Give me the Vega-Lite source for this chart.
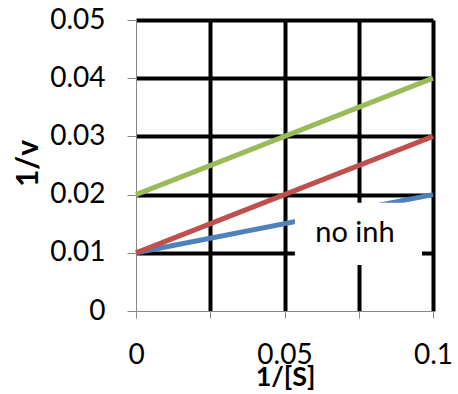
{
  "$schema": "https://vega.github.io/schema/vega-lite/v6.json",
  "width": 297,
  "height": 291,
  "autosize": {"type": "none"},
  "padding": {"left": 136, "top": 20, "right": 25, "bottom": 83},
  "background": "white",
  "config": {
    "view": {"stroke": null},
    "font": "Lato",
    "axis": {"labelFont": "Lato", "titleFont": "Lato"}
  },
  "datasets": {
    "lines": [
      {"s": "s1", "x": 0, "y": 0.01},
      {"s": "s1", "x": 0.1, "y": 0.02},
      {"s": "s2", "x": 0, "y": 0.01},
      {"s": "s2", "x": 0.1, "y": 0.03},
      {"s": "s3", "x": 0, "y": 0.02},
      {"s": "s3", "x": 0.1, "y": 0.04}
    ],
    "labels": [
      {"label": "no inh", "x": 0.0737, "y": 0.0134, "bx0": 0.0535, "bx1": 0.0963, "by0": 0.0079, "by1": 0.0186}
    ]
  },
  "layer": [
    {
      "data": {"name": "lines"},
      "mark": {"type": "line", "strokeWidth": 5, "strokeCap": "butt"},
      "encoding": {
        "x": {
          "field": "x", "type": "quantitative",
          "scale": {"domain": [0, 0.1], "nice": false, "zero": false},
          "axis": {
            "values": [0, 0.025, 0.05, 0.075, 0.1],
            "labelExpr": "abs(datum.value*20 - round(datum.value*20)) < 1e-6 ? format(datum.value, '~g') : ''",
            "grid": true,
            "gridColor": {"condition": {"test": "datum.value === 0", "value": "transparent"}, "value": "black"},
            "gridWidth": 4,
            "gridOpacity": 1,
            "domainColor": "#868686",
            "domainWidth": 1,
            "tickColor": "#868686",
            "tickSize": 7,
            "tickWidth": 1,
            "labelFontSize": 28,
            "labelColor": "black",
            "labelPadding": 23,
            "labelFlush": false,
            "labelOverlap": false,
            "title": "1/[S]",
            "titleFontSize": 27,
            "titleFontWeight": "bold",
            "titleColor": "black",
            "titleX": 149,
            "titleY": 66,
            "titleBaseline": "middle",
            "titleAlign": "center"
          }
        },
        "y": {
          "field": "y", "type": "quantitative",
          "scale": {"domain": [0, 0.05], "nice": false, "zero": false},
          "axis": {
            "values": [0, 0.005, 0.01, 0.015, 0.02, 0.025, 0.03, 0.035, 0.04, 0.045, 0.05],
            "labelExpr": "abs(datum.value*100 - round(datum.value*100)) < 1e-6 ? format(datum.value, '~g') : ''",
            "grid": true,
            "gridColor": {"condition": {"test": "datum.value === 0 || abs(datum.value*100 - round(datum.value*100)) > 1e-6", "value": "transparent"}, "value": "black"},
            "gridWidth": 4,
            "gridOpacity": 1,
            "domainColor": "#868686",
            "domainWidth": 1,
            "tickColor": "#868686",
            "tickSize": 9,
            "tickWidth": 1,
            "labelFontSize": 28,
            "labelColor": "black",
            "labelPadding": 22,
            "labelFlush": false,
            "labelOverlap": false,
            "title": "1/v",
            "titleFontSize": 30,
            "titleFontWeight": "bold",
            "titleColor": "black",
            "titleX": -108,
            "titleY": 143,
            "titleBaseline": "middle",
            "titleAlign": "center",
            "titleAngle": -90
          }
        },
        "color": {
          "field": "s", "type": "nominal",
          "scale": {"domain": ["s1", "s2", "s3"], "range": ["#4F81BD", "#C0504D", "#9BBB59"]},
          "legend": null
        }
      }
    },
    {
      "data": {"name": "labels"},
      "mark": {"type": "rect", "color": "white"},
      "encoding": {
        "x": {"field": "bx0", "type": "quantitative"},
        "x2": {"field": "bx1"},
        "y": {"field": "by0", "type": "quantitative"},
        "y2": {"field": "by1"}
      }
    },
    {
      "data": {"name": "labels"},
      "mark": {"type": "text", "fontSize": 29, "font": "Lato", "color": "black", "baseline": "middle", "align": "center"},
      "encoding": {
        "x": {"field": "x", "type": "quantitative"},
        "y": {"field": "y", "type": "quantitative"},
        "text": {"field": "label"}
      }
    }
  ]
}
